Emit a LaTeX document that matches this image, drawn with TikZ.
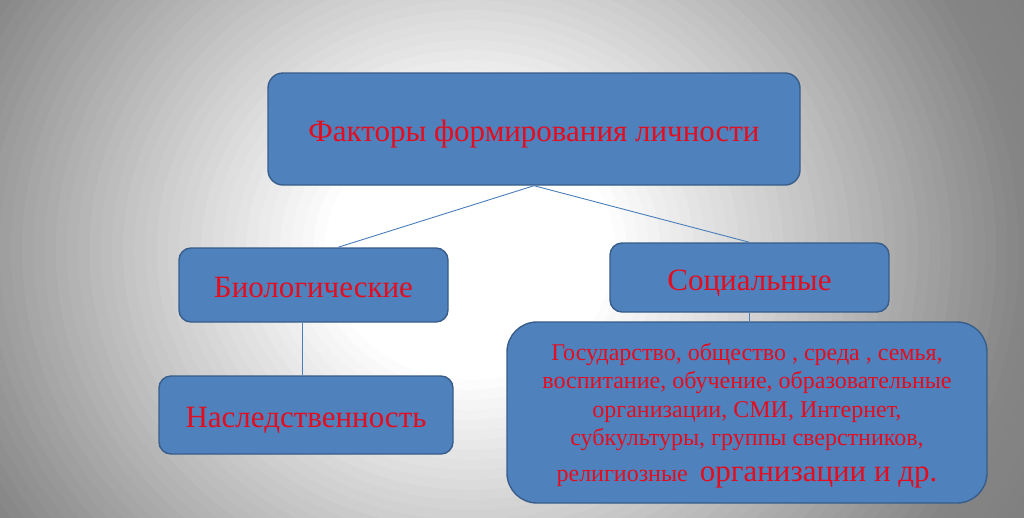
\documentclass[tikz,border=0pt]{standalone}
\usepackage{fontspec}
\setmainfont{Liberation Serif}
\definecolor{boxfill}{HTML}{4F81BD}
\definecolor{boxline}{HTML}{385D8A}
\definecolor{txtred}{RGB}{226,14,32}
\definecolor{connblue}{HTML}{4A7EBB}
\tikzset{
  box/.style={draw=boxline, line width=1.4pt, fill=boxfill, rounded corners=12pt,
    text=txtred, inner sep=0pt, text height=24.5pt, text depth=0pt,
    font=\fontsize{31}{36}\selectfont},
  connline/.style={draw=connblue, line width=0.9pt},
  bodytext/.style={text=txtred, inner sep=0pt, align=center,
    font=\fontsize{24}{28.4}\selectfont}
}
\begin{document}
\begin{tikzpicture}[x=1pt, y=-1pt]
\useasboundingbox (0,0) rectangle (1024,517);
% background: radial gradient, white centre, grey edges
\begin{scope}
  \clip (0,0) rectangle (1024,517);
  \fill[black!55] (0,0) rectangle (1024,517);
  \foreach \i in {0,...,64}{
    \pgfmathsetmacro{\rn}{1.54-0.02*\i}
    \pgfmathsetmacro{\p}{\rn>1 ? 48+7*(\rn-1)/0.5 : max(0,48*(\rn-0.26)/0.74)}
    \fill[black!\p] (470,250) ellipse [x radius=\rn*560pt, y radius=\rn*500pt];
  }
\end{scope}
% nodes
\node[box, rounded corners=15pt, minimum width=532pt, minimum height=112pt, text height=25.4pt] (top) at (534,129) {Факторы формирования личности};
\node[box, minimum width=269pt, minimum height=74pt] (bio) at (313.5,285) {Биологические};
\node[box, minimum width=279pt, minimum height=69pt, text height=25pt] (soc) at (749.5,277.5) {Социальные};
\node[box, minimum width=294pt, minimum height=78pt] (nasl) at (306,415) {Наследственность};
\node[box, rounded corners=30pt, minimum width=480pt, minimum height=181pt] (big) at (747,412.5) {};
\node[bodytext, anchor=north] (bigtext) at (747,340) {\rule{0pt}{20pt}Государство, общество , среда , семья,\\
воспитание, обучение, образовательные\\
организации, СМИ, Интернет,\\
субкультуры, группы сверстников,\\[8.1pt]
религиозные \ {\fontsize{31}{36}\selectfont организации и др.}};
% connectors
\draw[connline] (top.south) -- ([xshift=24.5pt]bio.north);
\draw[connline] (top.south) -- (soc.north);
\draw[connline] ([xshift=-11.5pt]bio.south) -- ([xshift=-4pt]nasl.north);
\draw[connline] (soc.south) -- (soc.south |- big.north);
\end{tikzpicture}
\end{document}
